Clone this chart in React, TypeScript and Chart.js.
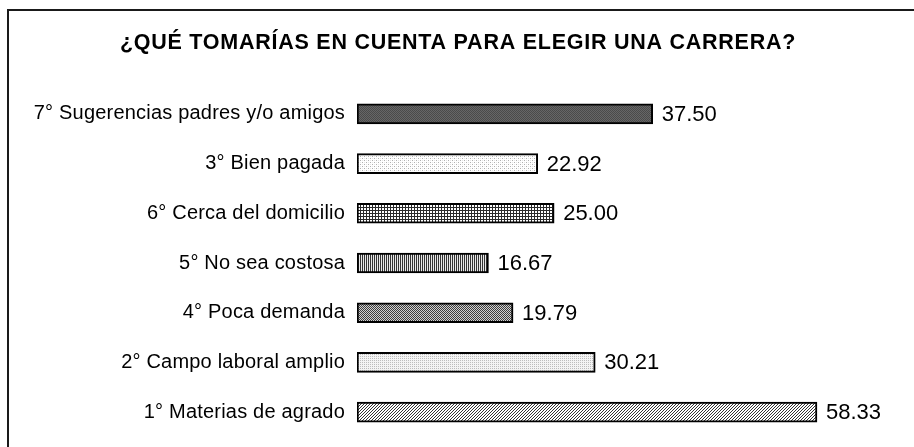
import React, { useEffect, useRef } from "react";
import { Chart, registerables } from "chart.js";

Chart.register(...registerables);

const TITLE = "¿QUÉ TOMARÍAS EN CUENTA PARA ELEGIR UNA CARRERA?";
const categories = [
  "7° Sugerencias padres y/o amigos",
  "3° Bien pagada",
  "6° Cerca del domicilio",
  "5° No sea costosa",
  "4° Poca demanda",
  "2° Campo laboral amplio",
  "1° Materias de agrado",
];
const values = [37.5, 22.92, 25.0, 16.67, 19.79, 30.21, 58.33];
const axisMax = 70;

function makePattern(w: number, h: number, draw: (c: CanvasRenderingContext2D) => void) {
  const c = document.createElement("canvas");
  c.width = w;
  c.height = h;
  const x = c.getContext("2d")!;
  draw(x);
  return x.createPattern(c, "repeat")!;
}

function px(c: CanvasRenderingContext2D, color: string, pts: number[][]) {
  c.fillStyle = color;
  for (const [x, y] of pts) c.fillRect(x, y, 1, 1);
}

function buildPatterns() {
  const p7 = makePattern(2, 2, (c) => {
    c.fillStyle = "#666666";
    c.fillRect(0, 0, 2, 2);
    px(c, "#4a4a4a", [[0, 0], [1, 1]]);
  });
  const p3 = makePattern(4, 4, (c) => {
    c.fillStyle = "#ffffff";
    c.fillRect(0, 0, 4, 4);
    px(c, "#b0b0b0", [[0, 0], [2, 2]]);
    px(c, "#e6e6e6", [[2, 0], [0, 2]]);
  });
  const p6 = makePattern(3, 3, (c) => {
    c.fillStyle = "#ffffff";
    c.fillRect(0, 0, 3, 3);
    c.fillStyle = "#2a2a2a";
    c.fillRect(0, 0, 3, 1);
    c.fillRect(0, 0, 1, 3);
  });
  const p5 = makePattern(2, 2, (c) => {
    c.fillStyle = "#e8e8e8";
    c.fillRect(0, 0, 2, 2);
    c.fillStyle = "#333333";
    c.fillRect(0, 0, 1, 2);
  });
  const p4 = makePattern(2, 2, (c) => {
    c.fillStyle = "#d0d0d0";
    c.fillRect(0, 0, 2, 2);
    px(c, "#3c3c3c", [[0, 0], [1, 1]]);
  });
  const p2 = makePattern(4, 4, (c) => {
    c.fillStyle = "#f4f4f4";
    c.fillRect(0, 0, 4, 4);
    px(c, "#bdbdbd", [[0, 0], [2, 2], [2, 0], [0, 2]]);
  });
  const p1 = makePattern(3, 3, (c) => {
    c.fillStyle = "#ffffff";
    c.fillRect(0, 0, 3, 3);
    px(c, "#333333", [[2, 0], [1, 1], [0, 2]]);
  });
  return [p7, p3, p6, p5, p4, p2, p1];
}

export default function App() {
  const ref = useRef<HTMLCanvasElement | null>(null);

  useEffect(() => {
    const canvas = ref.current!;
    const patterns = buildPatterns();

    const framePlugin = {
      id: "frameAndTitle",
      beforeDraw(chart: any) {
        const ctx = chart.ctx as CanvasRenderingContext2D;
        ctx.save();
        ctx.fillStyle = "#ffffff";
        ctx.fillRect(0, 0, chart.width, chart.height);
        ctx.fillStyle = "#1a1a1a";
        ctx.fillRect(7, 9, 2, chart.height - 9);
        ctx.fillRect(7, 9, chart.width - 7, 2);
        ctx.fillStyle = "#000000";
        ctx.font = "bold 21.5px 'Liberation Sans', Arial, sans-serif";
        (ctx as any).letterSpacing = "0.75px";
        ctx.textAlign = "center";
        ctx.textBaseline = "alphabetic";
        ctx.fillText(TITLE, 458, 49);
        ctx.restore();
        (ctx as any).letterSpacing = "0.2px";
      },
      afterDatasetsDraw(chart: any) {
        const ctx = chart.ctx as CanvasRenderingContext2D;
        const meta = chart.getDatasetMeta(0);
        ctx.save();
        (ctx as any).letterSpacing = "0px";
        ctx.fillStyle = "#000000";
        ctx.font = "22px 'Liberation Sans', Arial, sans-serif";
        ctx.textAlign = "left";
        ctx.textBaseline = "middle";
        meta.data.forEach((el: any, i: number) => {
          ctx.fillText(values[i].toFixed(2), el.x + 9, el.y + 1);
        });
        ctx.restore();
      },
      afterDraw(chart: any) {
        (chart.ctx as any).letterSpacing = "0px";
      },
    };

    const chart = new Chart(canvas, {
      type: "bar",
      data: {
        labels: categories,
        datasets: [
          {
            data: values,
            backgroundColor: patterns as any,
            borderColor: "#000000",
            borderWidth: 2,
            borderSkipped: false,
            barThickness: 20,
          },
        ],
      },
      options: {
        indexAxis: "y",
        responsive: false,
        animation: false,
        devicePixelRatio: 1,
        layout: { padding: { top: 89, bottom: 10, left: 0, right: 5 } },
        plugins: {
          legend: { display: false },
          tooltip: { enabled: false },
          title: { display: false },
        },
        scales: {
          x: {
            display: false,
            min: 0,
            max: axisMax,
          },
          y: {
            grid: { display: false, drawTicks: false },
            border: { display: false },
            ticks: {
              color: "#000000",
              padding: 12,
              font: { family: "'Liberation Sans', Arial, sans-serif", size: 20 },
            },
            afterFit(scale: any) {
              scale.width = 357;
              scale.paddingTop = 0;
              scale.paddingBottom = 0;
            },
          },
        },
      },
      plugins: [framePlugin],
    } as any);

    return () => chart.destroy();
  }, []);

  return (
    <div style={{ position: "fixed", left: 0, top: 0, width: 914, height: 447, background: "#fff" }}>
      <canvas ref={ref} width={914} height={447} style={{ display: "block", width: 914, height: 447 }} />
    </div>
  );
}
